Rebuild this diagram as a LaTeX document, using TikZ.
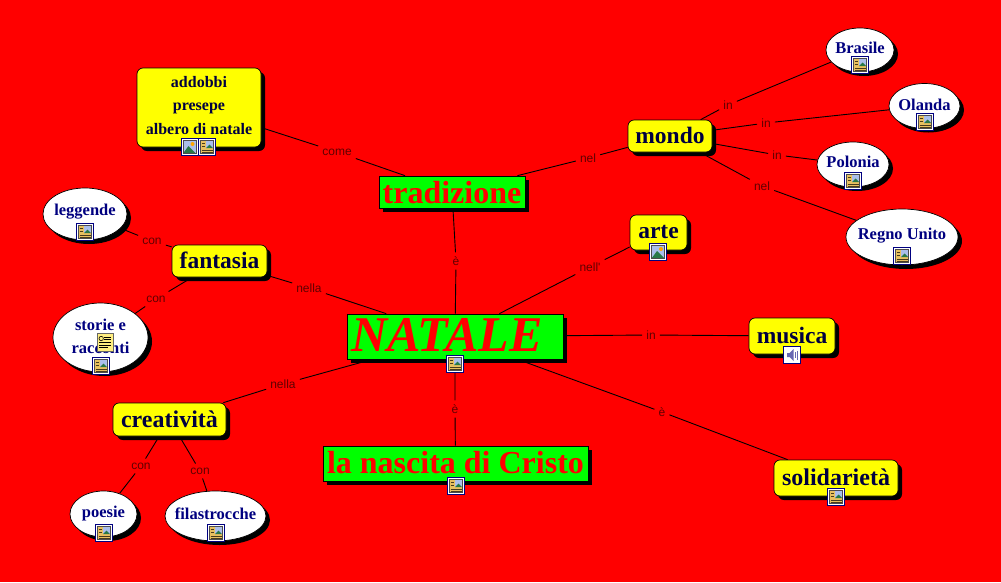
\documentclass[tikz,border=0pt]{standalone}
\usepackage{fontspec}
\setmainfont{Liberation Serif}
\newfontfamily\labfont{Liberation Sans}
\usetikzlibrary{shapes.geometric,shadows,backgrounds}
\definecolor{bgred}{RGB}{255,0,0}
\definecolor{boxyellow}{RGB}{255,255,0}
\definecolor{boxgreen}{RGB}{0,255,0}
\definecolor{inkdark}{RGB}{0,0,64}
\definecolor{inknavy}{RGB}{0,0,128}
\definecolor{labred}{RGB}{96,0,0}
\definecolor{icontan}{RGB}{232,192,96}
\definecolor{notey}{RGB}{255,238,128}
\definecolor{iconsky}{RGB}{170,190,235}
\definecolor{iconhill}{RGB}{40,120,70}
\newcommand{\tb}[2]{\makebox[0pt][c]{\raisebox{#1pt}[0pt][0pt]{#2}}}
\newcommand{\fsz}[1]{\fontsize{#1}{#1}\selectfont}
\tikzset{
  x=1pt,y=-1pt,
  hard shadow/.style={drop shadow={shadow xshift=4pt,shadow yshift=-4pt,opacity=1,fill=black}},
  concept/.style={draw=black,line width=0.7pt,fill=boxyellow,rounded corners=6pt,inner sep=0pt,
     text=inkdark,font=\bfseries\fsz{23.5},hard shadow},
  main/.style={draw=black,line width=0.7pt,fill=boxgreen,inner sep=0pt,text=red,font=\bfseries\fsz{32},hard shadow},
  place/.style={ellipse,draw=black,line width=0.7pt,fill=white,inner sep=0pt,text=inknavy,
     font=\bfseries\fsz{16.5},hard shadow},
  linklabel/.style={text=labred,font=\labfont\fsz{12},inner xsep=4pt,inner ysep=4pt},
  link/.style={draw=black,line width=0.9pt},
  pics/docicon/.style={code={
    \fill[white] (-8.5,-8.5) rectangle (8.5,8.5);
    \draw[inknavy,line width=0.7pt] (-8.5,-8.5) rectangle (8.5,8.5);
    \fill[icontan] (-6.5,-6.5) rectangle (6.5,6.5);
    \draw[black!70,line width=0.4pt] (-6.5,-6.5) rectangle (6.5,6.5);
    \fill[iconsky] (-1,-6) rectangle (6,1);
    \fill[iconhill] (-1,1) -- (2.5,-2.5) -- (6,1) -- cycle;
    \draw[black!70!icontan,line width=0.6pt] (-5.5,-3.5) -- (-2.5,-3.5) (-5.5,-0.5) -- (-2.5,-0.5) (-5.5,2.8) -- (5.5,2.8) (-5.5,5) -- (5.5,5);
  }},
  pics/imgicon/.style={code={
    \fill[white] (-8.5,-8.5) rectangle (8.5,8.5);
    \draw[inknavy,line width=0.7pt] (-8.5,-8.5) rectangle (8.5,8.5);
    \fill[iconsky] (-6.5,-6.5) rectangle (6.5,6.5);
    \fill[orange!70!yellow] (3,-3) circle (2);
    \fill[iconhill] (-6.5,6.5) -- (-1,-1) -- (6.5,6.5) -- cycle;
    \draw[black!70,line width=0.4pt] (-6.5,-6.5) rectangle (6.5,6.5);
  }},
  pics/soundicon/.style={code={
    \fill[white] (-8.5,-8.5) rectangle (8.5,8.5);
    \draw[inknavy,line width=0.7pt] (-8.5,-8.5) rectangle (8.5,8.5);
    \fill[inknavy!60!white] (-5,-2) -- (-2.5,-2) -- (1.5,-6) -- (1.5,6) -- (-2.5,2) -- (-5,2) -- cycle;
    \draw[inknavy!60!white,line width=0.6pt] (3.5,-3) -- (3.5,3) (5.5,-4.5) -- (5.5,4.5);
  }},
  pics/noteicon/.style={code={
    \fill[notey,draw=black!60,line width=0.4pt] (-8,-9) -- (8,-9) -- (8,9) -- (-8,9) -- cycle;
    \draw[black,line width=0.7pt] (-1,-5) -- (6,-5) (-1,-2.5) -- (6,-2.5) (-6,0.5) -- (6,0.5) (-6,3) -- (6,3) (-6,5.5) -- (3,5.5);
    \draw[black,line width=0.6pt] (-3.8,-3.5) circle (2.2);
  }},
}
\begin{document}
\begin{tikzpicture}
\useasboundingbox (0,0) rectangle (1001,582);
\begin{pgfonlayer}{background}
\fill[bgred] (0,0) rectangle (1001,582);
\end{pgfonlayer}
% main
\node[main,minimum width=216pt,minimum height=45pt,font=\bfseries\itshape\fsz{50}] (natale) at (455,336.5) {\tb{-14.5}{NATALE\hspace{16pt}}};
\node[main,minimum width=146pt,minimum height=32pt] (tradizione) at (452,192) {\tb{-11}{tradizione}};
\node[main,minimum width=265pt,minimum height=35pt] (nascita) at (455.5,463.5) {\tb{-9.5}{la nascita di Cristo}};
% concepts
\node[concept,minimum width=124pt,minimum height=79pt,font=\bfseries\fsz{16}] (addobbi) at (199,107.5)
  {\tb{-26.5}{\vbox{\hsize=120pt\centering\baselineskip=23.5pt addobbi\par presepe\par albero di natale\par}}};
\node[concept,minimum width=95pt,minimum height=32pt] (fantasia) at (219.5,261) {\tb{-7}{fantasia}};
\node[concept,minimum width=84pt,minimum height=32pt] (mondo) at (670,136) {\tb{-7}{mondo}};
\node[concept,minimum width=57pt,minimum height=35pt] (arte) at (658.5,232.5) {\tb{-5.5}{arte}};
\node[concept,minimum width=86pt,minimum height=36pt] (musica) at (792,336) {\tb{-7}{musica}};
\node[concept,minimum width=124pt,minimum height=36pt,font=\bfseries\fsz{24}] (solidarieta) at (836,478) {\tb{-7}{solidarietà}};
\node[concept,minimum width=113pt,minimum height=33pt,font=\bfseries\fsz{24}] (creativita) at (169.5,419.5) {\tb{-7.5}{creatività}};
% places
\node[place,minimum width=68pt,minimum height=44pt] (brasile) at (860,50) {\tb{-3}{Brasile}};
\node[place,minimum width=71pt,minimum height=45pt] (olanda) at (924.5,106) {\tb{-4}{Olanda}};
\node[place,minimum width=72pt,minimum height=45pt] (polonia) at (853,164.5) {\tb{-2.5}{Polonia}};
\node[place,minimum width=112pt,minimum height=56pt] (regno) at (902,237) {\tb{-2}{Regno Unito}};
\node[place,minimum width=84pt,minimum height=52pt] (leggende) at (85,214) {\tb{-1}{leggende}};
\node[place,minimum width=95pt,minimum height=69pt] (storie) at (100.5,337.5)
  {\tb{-15.5}{\vbox{\hsize=90pt\centering\baselineskip=23pt storie e\par racconti\par}}};
\node[place,minimum width=67pt,minimum height=46pt] (poesie) at (103.5,514) {\tb{-3}{poesie}};
\node[place,minimum width=101pt,minimum height=50pt] (filastrocche) at (215.5,516) {\tb{-3}{filastrocche}};
% link labels
\node[linklabel] (l1) at (337,152) {come};
\node[linklabel] (l2) at (588,158) {nel};
\node[linklabel] (l3) at (456,261) {è};
\node[linklabel] (l4) at (590,267) {nell'};
\node[linklabel] (l5) at (651,335) {in};
\node[linklabel] (l6) at (662,412) {è};
\node[linklabel] (l7) at (309,288) {nella};
\node[linklabel] (l8) at (283,384) {nella};
\node[linklabel] (l9) at (455,409) {è};
\node[linklabel] (l10) at (152,241) {con};
\node[linklabel] (l11) at (156,299) {con};
\node[linklabel] (l12) at (141,466) {con};
\node[linklabel] (l13) at (200,471) {con};
\node[linklabel] (l14) at (728,105) {in};
\node[linklabel] (l15) at (766,123) {in};
\node[linklabel] (l16) at (777,155) {in};
\node[linklabel] (l17) at (762,186) {nel};
% connectors
\begin{pgfonlayer}{background}
\draw[link] (addobbi) -- (l1) (l1) -- (tradizione);
\draw[link] (tradizione) -- (l2) (l2) -- (mondo);
\draw[link] (tradizione) -- (l3) (l3) -- (natale);
\draw[link] (natale) -- (l4) (l4) -- (arte);
\draw[link] (natale) -- (l5) (l5) -- (musica);
\draw[link] (natale) -- (l6) (l6) -- (solidarieta);
\draw[link] (fantasia) -- (l7) (l7) -- (natale);
\draw[link] (creativita) -- (l8) (l8) -- (natale);
\draw[link] (natale) -- (l9) (l9) -- (nascita);
\draw[link] (leggende) -- (l10) (l10) -- (fantasia);
\draw[link] (storie) -- (l11) (l11) -- (fantasia);
\draw[link] (creativita) -- (l12) (l12) -- (poesie);
\draw[link] (creativita) -- (l13) (l13) -- (filastrocche);
\draw[link] (mondo) -- (l14) (l14) -- (brasile);
\draw[link] (mondo) -- (l15) (l15) -- (olanda);
\draw[link] (mondo) -- (l16) (l16) -- (polonia);
\draw[link] (mondo) -- (l17) (l17) -- (regno);
\end{pgfonlayer}
% icons
\pic at (189.5,147) {imgicon};
\pic at (207,147) {docicon};
\pic at (85,232) {docicon};
\pic at (101,366) {docicon};
\pic at (105,342) {noteicon};
\pic at (860,65) {docicon};
\pic at (925,122) {docicon};
\pic at (853,181) {docicon};
\pic at (902,256) {docicon};
\pic at (658,252) {imgicon};
\pic at (792,355) {soundicon};
\pic at (836,497) {docicon};
\pic at (455,364) {docicon};
\pic at (456,486) {docicon};
\pic at (104,533) {docicon};
\pic at (216,533) {docicon};
\end{tikzpicture}
\end{document}
